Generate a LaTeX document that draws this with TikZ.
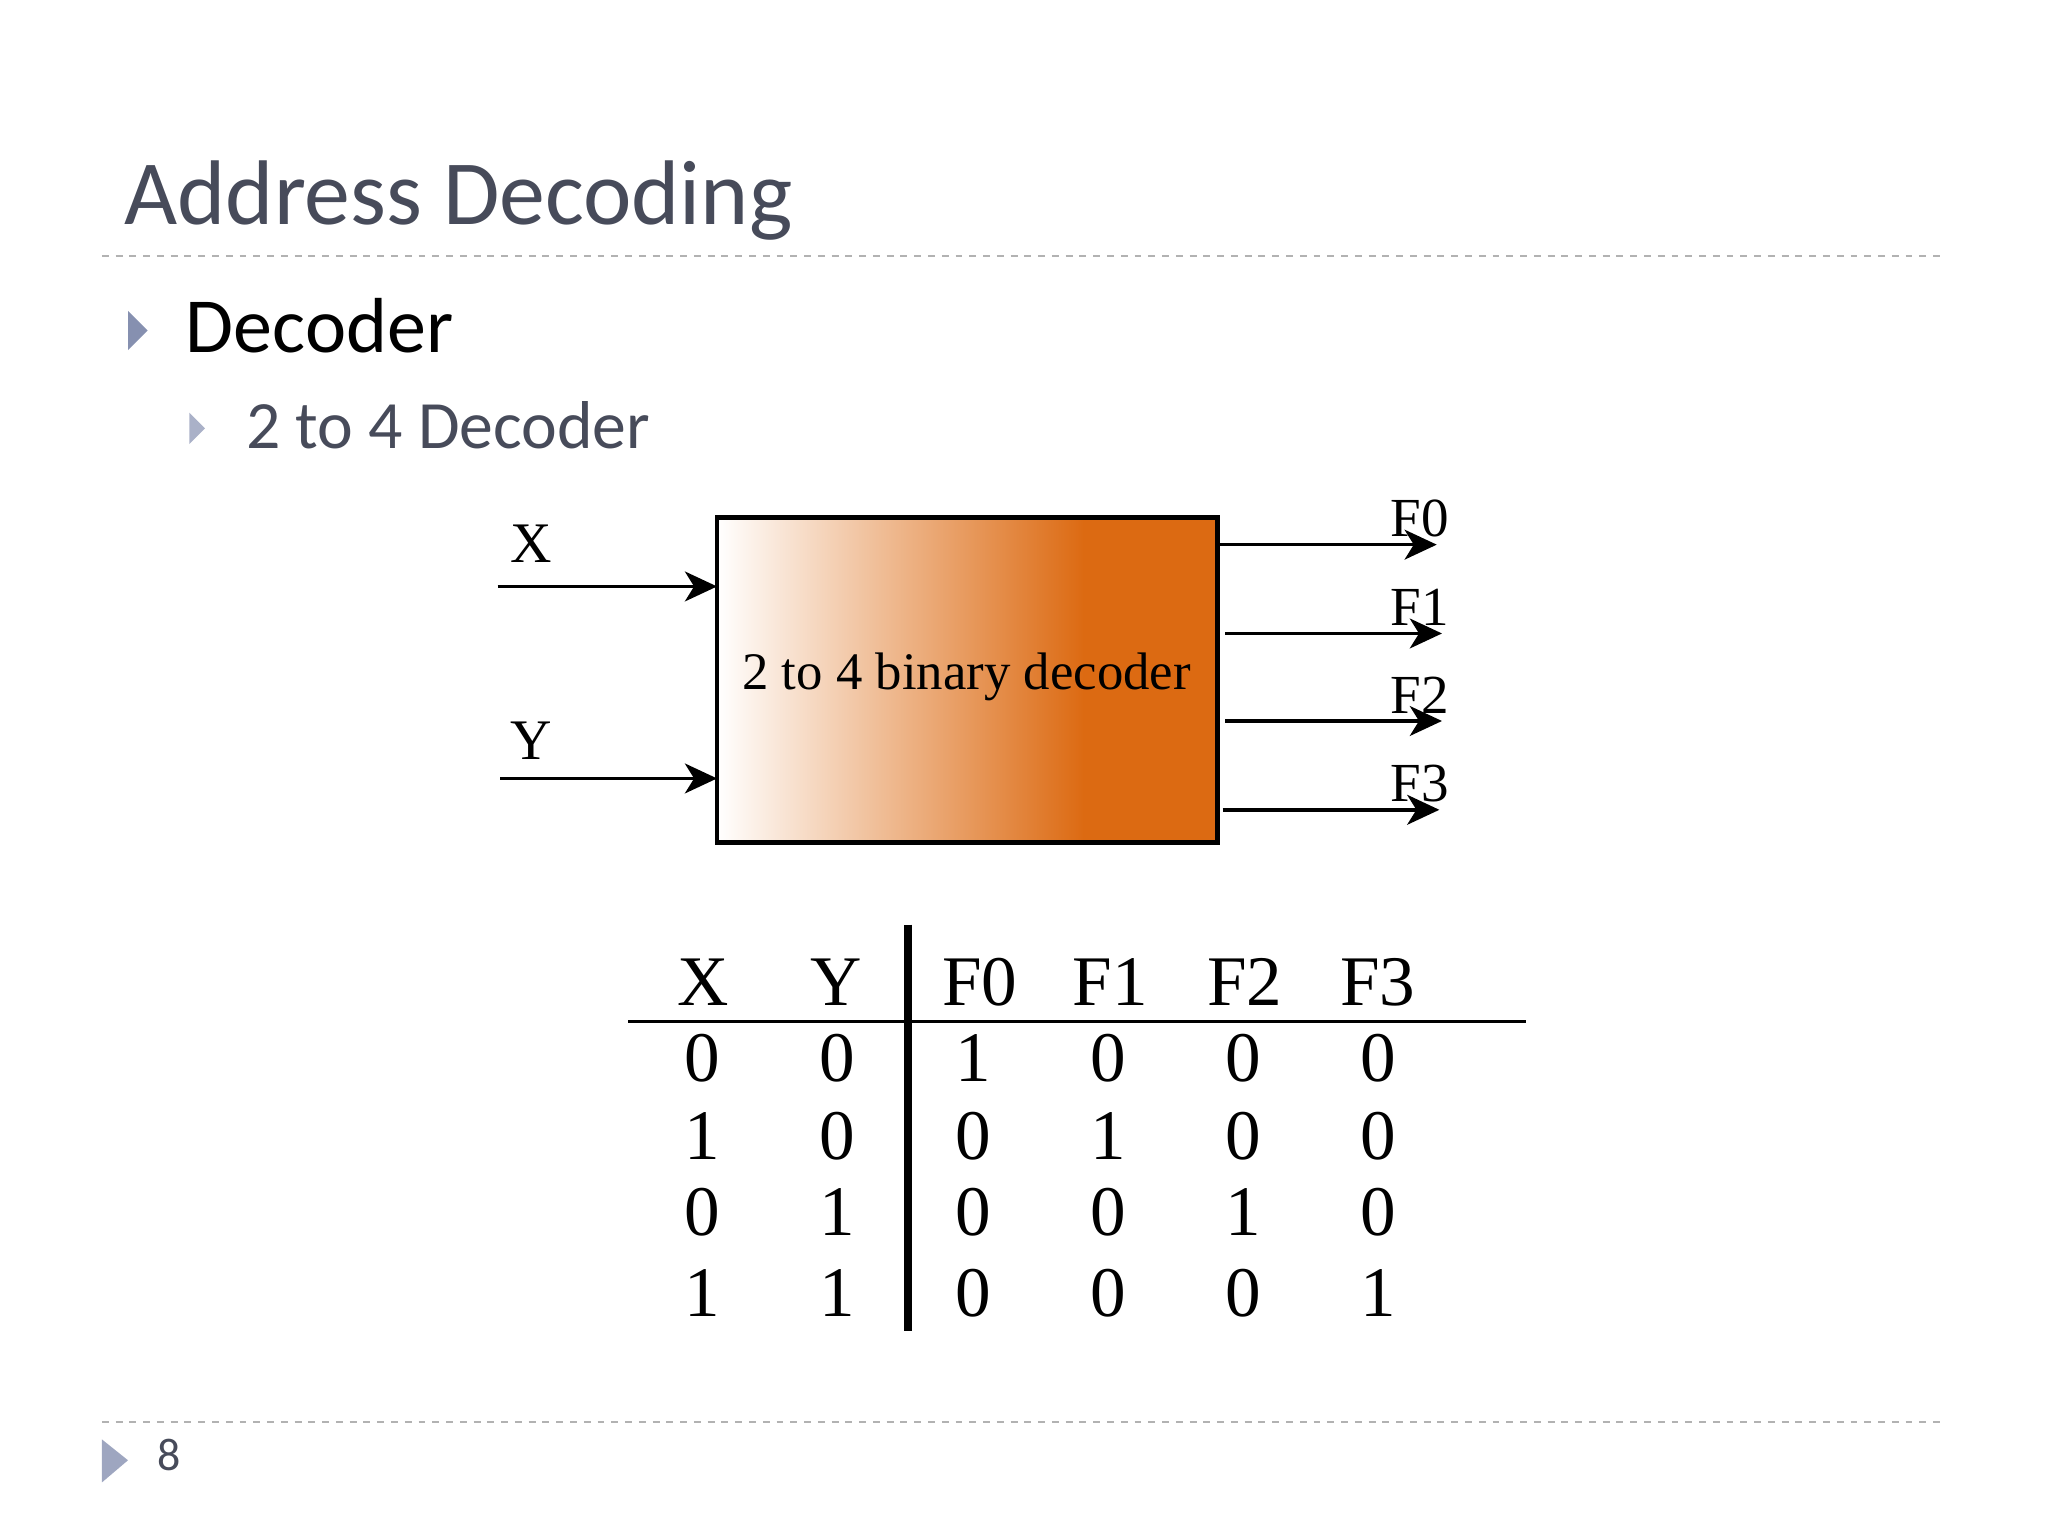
\documentclass[tikz,border=0pt]{standalone}
\usepackage{fontspec}
\usetikzlibrary{arrows.meta}
\setmainfont{Liberation Serif}
\newfontfamily\slidefont{Carlito}
\definecolor{titlegray}{HTML}{474B5A}
\definecolor{bulletblue}{HTML}{8690B0}
\definecolor{decorange}{HTML}{DC6A12}
\begin{document}
\begin{tikzpicture}
[x=0.02cm,y=-0.02cm,every node/.style={inner sep=0pt},
 arr/.style={line width=1.6pt,-{Stealth[length=14pt,width=13pt,inset=4pt]}},
 cell/.style={font=\fontsize{31}{31}\selectfont}]
\useasboundingbox (0,0) rectangle (1568,1176);
% slide frame
\node[anchor=base west,font=\slidefont\fontsize{40}{40}\selectfont,text=titlegray] (title) at (95,172) {Address Decoding};
\draw[dashed,gray!60,line width=0.8pt] (78,196) -- (1490,196);
\draw[dashed,gray!60,line width=0.8pt] (78,1089) -- (1490,1089);
\fill[bulletblue] (98,238) -- (113,253) -- (98,268) -- cycle;
\node[anchor=base west,font=\slidefont\fontsize{34}{34}\selectfont] (dec) at (142,270) {Decoder};
\fill[bulletblue!70] (145,316) -- (157,328) -- (145,340) -- cycle;
\node[anchor=base west,font=\slidefont\fontsize{29.5}{29.5}\selectfont,text=titlegray] (sub) at (188,343) {2 to 4 Decoder};
\fill[bulletblue!80] (78,1102) -- (98,1118) -- (78,1135) -- cycle;
\node[anchor=base west,font=\slidefont\fontsize{20}{20}\selectfont,text=titlegray] (page) at (120,1126) {8};
% decoder box
\shade[left color=white,right color=decorange] (549,396) rectangle (830,645);
\fill[decorange] (829,396) rectangle (932,645);
\draw[line width=2pt] (549,396) rectangle (932,645);
\node[font=\fontsize{23}{23}\selectfont] (box) at (740,518) {2 to 4 binary decoder};
\coordinate (inX) at (549,449);
\coordinate (inY) at (549,596);
\coordinate (sX) at (381,449);
\coordinate (sY) at (383,596);
\draw[arr] (sX) -- (inX);
\draw[arr] (sY) -- (inY);
\node[font=\fontsize{25}{25}\selectfont] (lX) at (407,416) {X};
\node[font=\fontsize{25}{25}\selectfont] (lY) at (407,567) {Y};
\foreach \n/\ya/\xa/\xb in {0/417/932/1100,1/485/938/1104,2/552/938/1104,3/620/936/1102}{
  \coordinate (o\n) at (\xa,\ya);
  \coordinate (e\n) at (\xb,\ya);
  \draw[arr] (o\n) -- (e\n);
  \node[font=\fontsize{24}{24}\selectfont] (F\n) at (1087,\ya-20) {F\n};
}
% truth table
\foreach \c/\x/\t in {1/538/X,2/640/Y,3/750/F0,4/850/F1,5/953/F2,6/1055/F3}
  \node[cell] (h\c) at (\x,752) {\t};
\foreach \r/\y/\vals in {1/810/{0,0,1,0,0,0},2/870/{1,0,0,1,0,0},3/928/{0,1,0,0,1,0},4/990/{1,1,0,0,0,1}}{
  \foreach \v [count=\c, evaluate=\c as \x using {\c<3 ? 538+(\c-1)*103 : 745+(\c-3)*103.3}] in \vals
    \node[cell] (t\r\c) at (\x,\y) {\v};
}
\coordinate (ha) at (481,782);
\coordinate (hb) at (1168,782);
\coordinate (va) at (695,708);
\coordinate (vb) at (695,1019);
\draw[line width=1.3pt] (ha) -- (hb);
\draw[line width=3.5pt] (va) -- (vb);
\end{tikzpicture}
\end{document}
